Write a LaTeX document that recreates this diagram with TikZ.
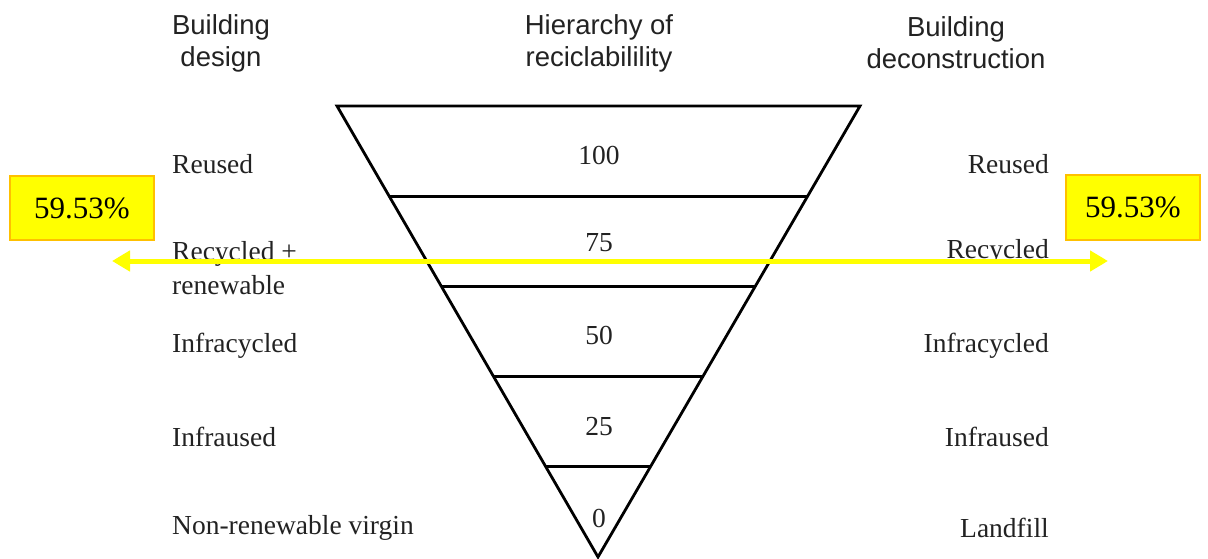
\documentclass[tikz,border=0pt]{standalone}
\usepackage{fontspec}
\setmainfont{Liberation Serif}
\newfontfamily\headfont{Liberation Sans}
\usetikzlibrary{arrows.meta,calc}
\definecolor{boxfill}{HTML}{FFFF00}
\definecolor{boxedge}{HTML}{FFC000}
\definecolor{arrowyel}{HTML}{FFFF00}
\definecolor{txt}{HTML}{222222}
\begin{document}
\begin{tikzpicture}[x=1pt,y=-1pt,
  head/.style={font=\headfont\fontsize{27.5}{32}\selectfont, text=txt, align=center, inner sep=0pt},
  lbl/.style={font=\fontsize{27.5}{34}\selectfont, text=txt, inner sep=0pt},
  leftlbl/.style={lbl, anchor=west, align=left},
  rightlbl/.style={lbl, anchor=east, align=right},
  num/.style={lbl, anchor=center},
  pct/.style={draw=boxedge, fill=boxfill, line width=1.5pt, font=\fontsize{31}{32}\selectfont, text=black, inner sep=0pt},
  tri/.style={line width=2.8pt, line join=miter, draw=black},
  arr/.style={draw=arrowyel, line width=5pt, {Triangle[length=18pt,width=20pt]}-{Triangle[length=18pt,width=20pt]}}
]
\useasboundingbox (0,0) rectangle (1208,559);

% headings
\node[head] (hdesign) at (221,43) {Building\\design};
\node[head] (hhier) at (599,43) {Hierarchy of\\reciclabilility};
\node[head] (hdecon) at (956,43) {Building\\deconstruction};

% triangle
\coordinate (TL) at (337,106);
\coordinate (TR) at (860,106);
\coordinate (A) at (598,557);
\draw[tri] (TL) -- (TR) -- (A) -- cycle;
\foreach \t in {0.2,0.4,0.6,0.8}{
  \draw[tri] ($(TL)!\t!(A)$) -- ($(TR)!\t!(A)$);
}

% numbers
\node[num] (n100) at (599,155) {100};
\node[num] (n75) at (599,243) {75};
\node[num] (n50) at (599,335) {50};
\node[num] (n25) at (599,427) {25};
\node[num] (n0) at (599,518) {0};

% left labels
\node[leftlbl] (lreused) at (172,164) {Reused};
\node[leftlbl] (lrecycled) at (172,268) {Recycled +\\renewable};
\node[leftlbl] (linfrac) at (172,346) {Infracycled};
\node[leftlbl] (linfrau) at (172,437) {Infraused};
\node[leftlbl] (lnonren) at (172,528) {Non-renewable virgin};

% right labels
\node[rightlbl] (rreused) at (1049,164) {Reused};
\node[rightlbl] (rrecycled) at (1049,252) {Recycled};
\node[rightlbl] (rinfrac) at (1049,346) {Infracycled};
\node[rightlbl] (rinfrau) at (1049,437) {Infraused};
\node[rightlbl] (rland) at (1049,528) {Landfill};

% percentage boxes
\node[pct, minimum width=144pt, minimum height=64pt] (pleft) at (82,208) {59.53\%};
\node[pct, minimum width=134pt, minimum height=65pt] (pright) at (1133,207.5) {59.53\%};

% arrow
\coordinate (aL) at (112,261);
\coordinate (aR) at (1108,261);
\draw[arr] (aL) -- (aR);
\end{tikzpicture}
\end{document}
